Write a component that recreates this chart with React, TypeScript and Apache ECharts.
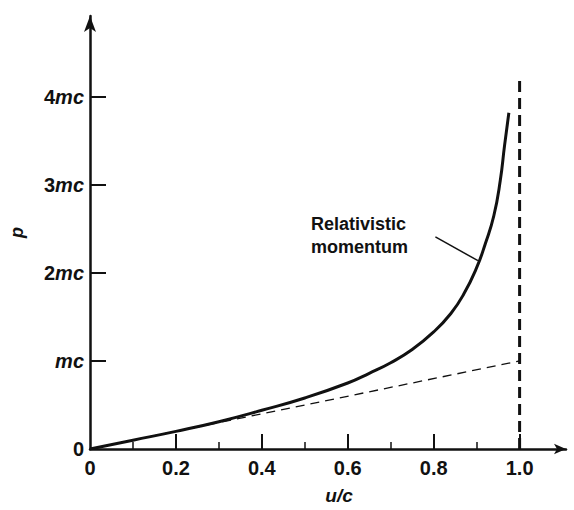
import React, { useEffect, useRef } from "react";
import * as echarts from "echarts";

// u/c and p (in units of mc)
const relU = [0, 0.1, 0.2, 0.3, 0.4, 0.5, 0.6, 0.65, 0.7, 0.75, 0.8, 0.84, 0.87, 0.9, 0.92, 0.94, 0.955, 0.965, 0.975];
const relP = [0, 0.1, 0.2, 0.31, 0.44, 0.58, 0.75, 0.86, 0.98, 1.13, 1.33, 1.54, 1.76, 2.06, 2.33, 2.65, 3.05, 3.45, 3.82];
const classicalU = [0, 1.0];
const classicalP = [0, 1.0];
const limitU = [1.0, 1.0];
const limitP = [0, 4.2];
const leaderU = [0.804, 0.903];
const leaderP = [2.41, 2.14];
const xMajorTicks = [0.2, 0.4, 0.6, 0.8, 1.0];
const xMinorTicks = [0.1, 0.3, 0.5, 0.7, 0.9];
const xLabels = [0, 0.2, 0.4, 0.6, 0.8, 1.0];
const yTicks = [1, 2, 3, 4];
const yLabels = [0, 1, 2, 3, 4];

const FONT = "Liberation Sans, Arial, Helvetica, sans-serif";

const zip = (a: number[], b: number[]) => a.map((v, i) => [v, b[i]]);

export default function App() {
  const ref = useRef<HTMLDivElement>(null);
  useEffect(() => {
    document.body.style.margin = "0";
    const chart = echarts.init(ref.current!, null, { renderer: "svg" });
    const xMin = 0;
    const xMax = 1.108;
    chart.setOption({
      animation: false,
      backgroundColor: "#fff",
      grid: { left: 85, right: 8, top: 16, bottom: 60 },
      xAxis: [
        {
          type: "value",
          min: xMin,
          max: xMax,
          name: "u/c",
          nameLocation: "middle",
          nameGap: 37,
          nameTextStyle: {
            fontFamily: FONT,
            fontStyle: "italic",
            fontWeight: "bold",
            fontSize: 19,
            color: "#111",
            padding: [0, 0, 0, 22],
          },
          splitLine: { show: false },
          axisLine: {
            lineStyle: { color: "#111", width: 2.5 },
            symbol: ["none", "arrow"],
            symbolSize: [8, 12],
          },
          axisTick: {
            show: true,
            inside: true,
            length: 15,
            lineStyle: { color: "#111", width: 2 },
            customValues: xMajorTicks,
          },
          axisLabel: {
            customValues: xLabels,
            margin: 9,
            fontFamily: FONT,
            fontSize: 20,
            fontWeight: "bold",
            color: "#111",
            formatter: (v: number) => (v === 0 ? "0" : v.toFixed(1)),
          },
        },
        {
          type: "value",
          min: xMin,
          max: xMax,
          position: "bottom",
          splitLine: { show: false },
          axisLine: { show: false },
          axisLabel: { show: false },
          axisTick: {
            show: true,
            inside: true,
            length: 7,
            lineStyle: { color: "#111", width: 1.5 },
            customValues: xMinorTicks,
          },
        },
      ],
      yAxis: {
        type: "value",
        min: 0,
        max: 4.92,
        name: "p",
        nameLocation: "middle",
        nameRotate: 90,
        nameGap: 64,
        nameTextStyle: {
          fontFamily: FONT,
          fontStyle: "italic",
          fontWeight: "bold",
          fontSize: 18,
          color: "#111",
        },
        splitLine: { show: false },
        axisLine: {
          lineStyle: { color: "#111", width: 2.5 },
          symbol: ["none", "arrow"],
          symbolSize: [9, 16],
        },
        axisTick: {
          show: true,
          inside: true,
          length: 16,
          lineStyle: { color: "#111", width: 2 },
          customValues: yTicks,
        },
        axisLabel: {
          customValues: yLabels,
          margin: 6,
          color: "#111",
          fontFamily: FONT,
          fontSize: 20,
          fontWeight: "bold",
          formatter: (v: number) =>
            v === 0 ? "{n|0}" : v === 1 ? "{i|mc}" : `{n|${v}}{i|mc}`,
          rich: {
            n: { fontFamily: FONT, fontSize: 20, fontWeight: "bold", color: "#111" },
            i: { fontFamily: FONT, fontSize: 20, fontWeight: "bold", fontStyle: "italic", color: "#111" },
          },
        },
      },
      series: [
        {
          type: "line",
          data: zip(relU, relP),
          smooth: 0.5,
          showSymbol: false,
          lineStyle: { color: "#111", width: 3 },
        },
        {
          type: "line",
          data: zip(classicalU, classicalP),
          showSymbol: false,
          lineStyle: { color: "#111", width: 1.3, type: [9, 6] },
        },
        {
          type: "line",
          data: zip(limitU, limitP),
          showSymbol: false,
          lineStyle: { color: "#111", width: 3, type: [11, 6] },
        },
        {
          type: "line",
          data: zip(leaderU, leaderP),
          showSymbol: false,
          lineStyle: { color: "#111", width: 1.5 },
        },
      ],
      graphic: [
        {
          type: "text",
          left: 311,
          top: 212,
          style: {
            text: "Relativistic\nmomentum",
            fontFamily: FONT,
            fontSize: 18,
            fontWeight: "bold",
            lineHeight: 23,
            fill: "#111",
          },
        },
      ],
    });
    return () => chart.dispose();
  }, []);
  return <div ref={ref} style={{ width: 574, height: 510 }} />;
}
